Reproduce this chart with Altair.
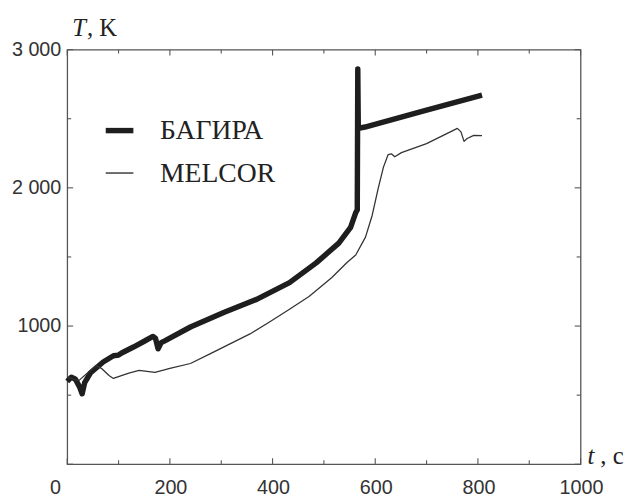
import altair as alt
import pandas as pd

# ---- data ----
bagira_t = [0, 8, 16, 24, 29, 34, 45, 70, 90, 100, 106, 130, 150, 167, 172, 177, 183, 190,
            240, 306, 369, 433, 485, 529, 552, 562, 565, 566, 567, 580, 700, 808]
bagira_T = [600, 630, 615, 560, 510, 590, 660, 740, 785, 790, 805, 850, 890, 925, 910, 835, 880, 893,
            993, 1100, 1193, 1314, 1457, 1600, 1714, 1821, 1840, 2860, 2430, 2440, 2563, 2670]

melcor_t = [0, 12, 23, 56, 67, 82, 90, 97, 120, 140, 171, 200, 240, 279, 317, 356, 394, 433,
            471, 515, 545, 562, 581, 594, 606, 616, 625, 632, 638, 651, 700, 760, 767, 773,
            779, 792, 808]
melcor_T = [630, 615, 607, 714, 693, 640, 621, 630, 660, 679, 665, 693, 729, 800, 871, 943, 1029, 1121,
            1214, 1350, 1460, 1514, 1643, 1800, 2000, 2150, 2240, 2245, 2225, 2255, 2320, 2430, 2405, 2336,
            2357, 2380, 2378]

series_names = ["БАГИРА", "MELCOR"]
series_widths = [5.5, 1.3]
x_label_values = [0, 200, 400, 600, 800, 1000]
x_label_texts = ["0", "200", "400", "600", "800", "1000"]
y_label_values = [1000, 2000, 3000]
y_label_texts = ["1000", "2 000", "3 000"]
x_major_ticks = [0, 200, 400, 600, 800, 1000]
x_minor_ticks = [100, 300, 500, 700, 900]
y_major_ticks = [0, 1000, 2000, 3000]
y_minor_ticks = [500, 1500, 2500]

W, H = 520, 420

rows = []
for i, (t, T) in enumerate(zip(bagira_t, bagira_T)):
    rows.append({"t": t, "T": T, "series": series_names[0], "idx": i})
for i, (t, T) in enumerate(zip(melcor_t, melcor_T)):
    rows.append({"t": t, "T": T, "series": series_names[1], "idx": i})
df = pd.DataFrame(rows)

xs = alt.Scale(domain=[0, 1000], nice=False, zero=False)
ys = alt.Scale(domain=[0, 3000], nice=False, zero=False)

LABEL_FONT = "Liberation Sans"
SERIF = "Liberation Serif"
INK = "#222"
FRAME = "#555"

lines = alt.Chart(df).mark_line(strokeJoin="round", strokeCap="butt").encode(
    x=alt.X("t:Q", scale=xs, axis=None),
    y=alt.Y("T:Q", scale=ys, axis=None),
    detail="series:N",
    order="idx:Q",
    color=alt.Color("series:N", scale=alt.Scale(domain=series_names, range=["#1e1e1e", "#333333"]),
                    legend=None),
    strokeWidth=alt.StrokeWidth("series:N", scale=alt.Scale(domain=series_names, range=series_widths),
                                legend=None),
)

def xticks(vals, length, top):
    d = pd.DataFrame({"v": vals})
    if top:
        yy, yy2 = alt.value(0), alt.value(length)
    else:
        yy, yy2 = alt.value(H), alt.value(H - length)
    return alt.Chart(d).mark_rule(color=FRAME, strokeWidth=1.1).encode(
        x=alt.X("v:Q", scale=xs, axis=None), y=yy, y2=yy2)

def yticks(vals, length, right):
    d = pd.DataFrame({"v": vals})
    if right:
        xx, xx2 = alt.value(W), alt.value(W - length)
    else:
        xx, xx2 = alt.value(0), alt.value(length)
    return alt.Chart(d).mark_rule(color=FRAME, strokeWidth=1.1).encode(
        y=alt.Y("v:Q", scale=ys, axis=None), x=xx, x2=xx2)

tick_layers = [
    xticks(x_major_ticks, 6, False), xticks(x_minor_ticks, 4, False),
    xticks(x_major_ticks, 6, True), xticks(x_minor_ticks, 4, True),
    yticks(y_major_ticks, 6, False), yticks(y_minor_ticks, 4, False),
    yticks(y_major_ticks, 6, True), yticks(y_minor_ticks, 4, True),
]

# tick labels placed through the scales
xl = pd.DataFrame({"v": x_label_values, "lab": x_label_texts})
x_labels_zero = alt.Chart(xl[xl.v == 0]).mark_text(
    font=LABEL_FONT, fontSize=20, color="#333", align="center", baseline="top", dx=-12).encode(
    x=alt.X("v:Q", scale=xs, axis=None), y=alt.value(H + 14), text="lab:N")
x_labels_rest = alt.Chart(xl[xl.v != 0]).mark_text(
    font=LABEL_FONT, fontSize=20, color="#333", align="center", baseline="top", dx=1).encode(
    x=alt.X("v:Q", scale=xs, axis=None), y=alt.value(H + 14), text="lab:N")
yl = pd.DataFrame({"v": y_label_values, "lab": y_label_texts})
y_labels = alt.Chart(yl).mark_text(
    font=LABEL_FONT, fontSize=20, color="#333", align="right", baseline="middle").encode(
    y=alt.Y("v:Q", scale=ys, axis=None), x=alt.value(-6), text="lab:N")

one = alt.Data(values=[{"a": 1}])

def label(txt, x, y, italic, size=25, baseline="alphabetic"):
    return alt.Chart(one).mark_text(
        text=txt, font=SERIF, fontSize=size, fontStyle="italic" if italic else "normal",
        align="left", baseline=baseline, color=INK).encode(
        x=alt.value(x), y=alt.value(y))

titles = [
    label("T", 5, -14, True), label(", K", 20, -14, False),
    label("t", 527, H, True), label(", c", 540, H, False),
]

# manual legend (line sample + name) built from the series lists
legend_layers = []
for i, (name, sw) in enumerate(zip(series_names, series_widths)):
    ly = 82 + 43 * i
    legend_layers.append(
        alt.Chart(one).mark_rule(color="#1e1e1e", strokeWidth=sw).encode(
            x=alt.value(39), x2=alt.value(67), y=alt.value(ly)))
    legend_layers.append(
        alt.Chart(one).mark_text(text=name, font=SERIF, fontSize=28, align="left",
                                 baseline="middle", color=INK).encode(
            x=alt.value(94), y=alt.value(ly + 1)))

chart = alt.layer(lines, *tick_layers, x_labels_zero, x_labels_rest, y_labels,
                  *titles, *legend_layers).properties(
    width=W, height=H,
    background="white",
    autosize=alt.AutoSizeParams(type="none"),
    padding={"left": 60, "top": 39, "right": 45, "bottom": 30},
).configure_view(stroke=FRAME, strokeWidth=1.3)

chart.save("out.html", embed_options={"renderer": "svg", "actions": False})
